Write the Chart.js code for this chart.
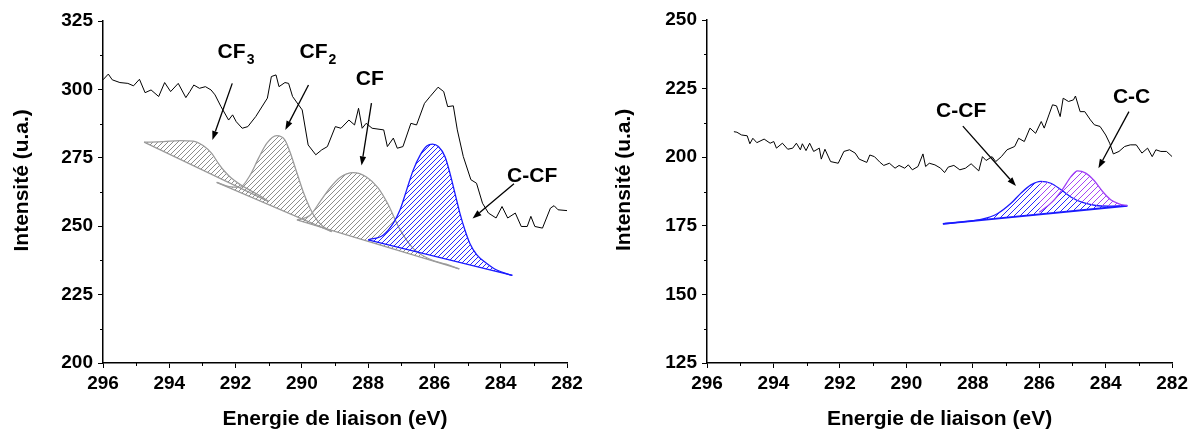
<!DOCTYPE html>
<html>
<head>
<meta charset="utf-8">
<script src="https://cdn.jsdelivr.net/npm/chart.js@4.4.0/dist/chart.umd.min.js"></script>
<style>
html,body{margin:0;padding:0;background:#fff;}
#left{position:absolute;left:0;top:0;width:600px;height:432px;}
#right{position:absolute;left:600px;top:0;width:592px;height:432px;}
</style>
</head>
<body>
<div id="left"><canvas id="c1"></canvas></div>
<div id="right"><canvas id="c2"></canvas></div>
<script>
// ---- left panel : spectre + 4 composantes ----
var spec1_eV = [296.00,295.84,295.72,295.49,295.25,295.08,294.90,294.73,294.55,294.32,294.14,293.96,293.73,293.50,293.38,293.26,293.09,292.91,292.74,292.62,292.44,292.21,292.09,291.98,291.80,291.63,291.39,291.04,290.92,290.78,290.69,290.51,290.40,290.28,289.99,289.81,289.58,289.40,289.23,288.99,288.82,288.58,288.41,288.29,288.18,288.06,287.88,287.53,287.42,287.24,287.12,286.95,286.71,286.54,286.30,286.13,285.89,285.72,285.60,285.43,285.31,285.13,284.90,284.73,284.55,284.37,284.14,283.96,283.79,283.56,283.38,283.20,283.09,282.97,282.74,282.50,282.39,282.27,282.00];
var spec1_int = [303.5,305.6,303.5,302.5,302.2,301.3,303.7,298.8,299.8,297.4,302.5,299.2,302.2,297.0,299.2,301.6,300.4,301.0,299.8,298.0,293.7,288.8,290.7,288.2,285.8,286.4,290.1,296.8,304.7,305.3,301.0,302.5,302.2,297.4,292.5,279.7,276.1,277.9,279.1,286.4,285.8,288.8,287.0,293.1,285.8,287.6,285.8,285.2,279.1,282.2,278.5,279.1,287.6,287.0,294.9,297.4,300.8,299.2,293.7,294.0,285.2,275.5,267.0,265.7,258.4,254.8,253.0,257.2,253.0,254.8,249.9,249.9,253.6,249.9,249.3,256.6,257.5,256.0,255.7];

var cf3_eV  = [294.76,294.18,293.68,293.28,292.97,292.72,292.52,292.32,292.12,291.87,291.56,291.25,291.0];
var cf3_int = [280.7,280.9,281.3,281.1,279.4,276.6,273.0,269.9,267.5,265.3,263.1,261.0,259.0];
var cf3_base_eV = [294.76,291.0], cf3_base = [280.7,259.0];

var cf2_eV  = [292.57,292.2,291.87,291.56,291.31,291.06,290.76,290.51,290.36,290.16,289.96,289.75,289.55,289.35,289.1];
var cf2_int = [266.0,264.5,264.2,268.7,274.8,280.3,283.1,281.5,277.2,269.9,262.6,256.5,252.3,249.8,248.0];
var cf2_base_eV = [292.57,289.1], cf2_base = [266.0,248.0];

var cf_eV  = [290.15,289.75,289.45,289.15,288.85,288.45,288.05,287.7,287.4,287.05,286.65,286.15,285.65,285.25];
var cf_int = [252.3,254.0,259.0,264.0,267.8,269.6,268.0,264.0,258.0,249.0,242.0,238.0,236.1,234.4];
var cf_base_eV = [290.15,285.25], cf_base = [252.3,234.4];

var ccf1_eV  = [288.0,287.54,287.24,287.04,286.84,286.64,286.43,286.23,286.06,285.88,285.68,285.53,285.38,285.23,285.08,284.93,284.72,284.42,284.12,283.65];
var ccf1_int = [245.0,246.8,251.1,255.9,263.2,270.5,276.0,279.3,280.0,279.1,275.4,269.3,262.0,254.7,248.6,243.7,239.5,236.4,234.0,232.0];
var ccf1_base_eV = [288.0,283.65], ccf1_base = [245.0,232.0];

// ---- right panel ----
var spec2_eV = [295.19,295.10,294.96,294.79,294.71,294.62,294.50,294.28,294.10,293.99,293.91,293.73,293.57,293.42,293.31,293.19,293.13,293.02,292.91,292.79,292.62,292.56,292.45,292.28,292.05,291.88,291.71,291.54,291.42,291.19,291.10,290.96,290.79,290.68,290.51,290.34,290.22,290.05,289.94,289.82,289.65,289.50,289.42,289.31,289.14,288.97,288.85,288.74,288.57,288.39,288.22,288.05,287.82,287.71,287.60,287.42,287.31,287.14,286.97,286.74,286.62,286.45,286.28,286.11,285.94,285.85,285.71,285.60,285.48,285.37,285.28,285.12,284.97,284.91,284.77,284.63,284.46,284.34,284.17,284.00,283.88,283.77,283.60,283.43,283.26,283.08,282.91,282.74,282.60,282.49,282.34,282.17,282.00];
var spec2_int = [209.3,209.1,208.1,207.8,204.9,206.9,205.3,206.6,205.1,205.7,203.3,205.1,202.9,203.3,205.1,202.7,204.9,202.4,205.1,202.1,203.3,199.3,202.9,198.4,197.8,202.1,202.7,201.5,199.3,198.1,200.8,200.2,198.1,197.0,197.8,196.0,197.0,196.0,197.2,195.4,196.6,201.2,196.6,197.8,197.2,196.0,194.4,196.4,197.0,195.4,196.0,197.6,195.0,200.2,198.8,200.2,198.4,200.2,202.7,203.9,206.9,205.7,210.6,208.7,213.0,210.6,215.4,219.1,218.7,214.8,221.5,220.3,220.9,222.3,216.6,216.6,213.6,211.8,211.2,208.1,205.1,201.2,202.1,203.9,204.5,204.5,201.5,203.3,200.2,202.7,202.1,202.1,200.2];

var ccf2_eV  = [288.9,288.3,287.75,287.25,286.85,286.55,286.25,285.95,285.65,285.35,285.05,284.7,284.3,283.9,283.35];
var ccf2_int = [175.7,176.4,177.3,179.5,183.2,186.9,189.9,191.2,190.5,188.2,185.5,183.5,182.4,182.2,182.3];
var cc_eV  = [286.0,285.6,285.3,285.05,284.85,284.6,284.35,284.1,283.85,283.6,283.35];
var cc_int = [179.9,183.8,188.3,192.8,195.0,194.2,191.5,187.6,184.5,183.0,182.3];
var base2_eV = [288.9,283.35], base2 = [175.7,182.3];

// ticks
var xMinor = [283,285,287,289,291,293,295];
var yMinor1 = [212.5,237.5,262.5,287.5,312.5];
var yMinor2 = [137.5,162.5,187.5,212.5,237.5];

// annotations [eV debut, int debut, eV pointe, int pointe]
var arrows1 = [[292.1,302.2,292.7,281.5],[289.8,301.6,290.5,285.2],[287.9,295.0,288.2,272.2],[283.6,265.5,284.85,252.8]];
var labels1 = [['CF','3',292.12,313.5],['CF','2',289.65,313.5],['CF','',287.95,303.7],['C-CF','',283.05,268.3]];
var arrows2 = [[288.3,211.3,286.7,189.5],[283.3,216.6,284.22,196.0]];
var labels2 = [['C-CF','',288.35,216.8],['C-C','',283.22,222.0]];

var FONT = "'Liberation Sans', Arial, Helvetica, sans-serif";

function pts(xs, ys){
    return xs.map(function(v, i){ return {x: v, y: ys[i]}; });
}

function hatch(color, gap){
    var c = document.createElement('canvas');
    c.width = gap; c.height = gap;
    var g = c.getContext('2d');
    g.strokeStyle = color; g.lineWidth = 1;
    g.beginPath();
    g.moveTo(0, gap); g.lineTo(gap, 0);
    g.moveTo(-1, 1); g.lineTo(1, -1);
    g.moveTo(gap-1, gap+1); g.lineTo(gap+1, gap-1);
    g.stroke();
    return g.createPattern(c, 'repeat');
}

function peak(xs, ys, color, fillStyle){
    return {data: pts(xs, ys), borderColor: color, borderWidth: 1.3, pointRadius: 0,
            fill: '+1', backgroundColor: fillStyle, cubicInterpolationMode: 'monotone'};
}
function base(xs, ys, color, w){
    return {data: pts(xs, ys), borderColor: color, borderWidth: w, pointRadius: 0, fill: false};
}
function spectrum(xs, ys){
    return {data: pts(xs, ys), borderColor: '#000', borderWidth: 1, pointRadius: 0, fill: false, tension: 0};
}

var decor = {
    id: 'decor',
    afterDraw: function(chart){
        var o = chart.options.plugins.decor;
        var ctx = chart.ctx, xs = chart.scales.x, ys = chart.scales.y, a = chart.chartArea;
        ctx.save();
        ctx.strokeStyle = '#000'; ctx.lineWidth = 1;
        ctx.beginPath();
        o.xMinor.forEach(function(v){
            var px = Math.round(xs.getPixelForValue(v)) + 0.5;
            ctx.moveTo(px, a.bottom); ctx.lineTo(px, a.bottom + 3);
        });
        o.yMinor.forEach(function(v){
            var py = Math.round(ys.getPixelForValue(v)) + 0.5;
            ctx.moveTo(a.left, py); ctx.lineTo(a.left - 3, py);
        });
        ctx.stroke();

        // fleches
        ctx.fillStyle = '#000'; ctx.lineWidth = 1.3;
        o.arrows.forEach(function(ar){
            var x0 = xs.getPixelForValue(ar[0]), y0 = ys.getPixelForValue(ar[1]);
            var x1 = xs.getPixelForValue(ar[2]), y1 = ys.getPixelForValue(ar[3]);
            var ang = Math.atan2(y1 - y0, x1 - x0), L = 9, W = 3.2;
            var bx = x1 - L*Math.cos(ang), by = y1 - L*Math.sin(ang);
            ctx.beginPath(); ctx.moveTo(x0, y0); ctx.lineTo(bx, by); ctx.stroke();
            ctx.beginPath();
            ctx.moveTo(x1, y1);
            ctx.lineTo(bx + W*Math.sin(ang), by - W*Math.cos(ang));
            ctx.lineTo(bx - W*Math.sin(ang), by + W*Math.cos(ang));
            ctx.closePath(); ctx.fill();
        });

        // etiquettes
        ctx.textAlign = 'center'; ctx.textBaseline = 'middle';
        o.labels.forEach(function(lb){
            var px = xs.getPixelForValue(lb[2]), py = ys.getPixelForValue(lb[3]);
            ctx.font = 'bold 21px ' + FONT;
            ctx.fillText(lb[0], px, py);
            if (lb[1]) {
                var w = ctx.measureText(lb[0]).width;
                ctx.font = 'bold 14px ' + FONT;
                ctx.fillText(lb[1], px + w/2 + 5, py + 8);
            }
        });
        ctx.restore();
    }
};

function axes(yMin, yMax, yWidth, yTitlePad){
    return {
        x: {
            type: 'linear', reverse: true, min: 282, max: 296,
            afterFit: function(s){ s.height = 69; },
            ticks: {stepSize: 2, autoSkip: false, maxRotation: 0, color: '#000', padding: 4,
                    font: {family: FONT, size: 19, weight: 'bold'}},
            grid: {drawOnChartArea: false, color: '#000', tickLength: 5, lineWidth: 1},
            border: {color: '#000', width: 1.5},
            title: {display: true, text: 'Energie de liaison (eV)', color: '#000',
                    font: {family: FONT, size: 21, weight: 'bold'}, padding: {top: 0, bottom: 0}}
        },
        y: {
            min: yMin, max: yMax,
            afterFit: function(s){ s.width = yWidth; },
            ticks: {stepSize: 25, color: '#000', padding: 5,
                    font: {family: FONT, size: 19, weight: 'bold'}},
            grid: {drawOnChartArea: false, color: '#000', tickLength: 5, lineWidth: 1},
            border: {color: '#000', width: 1.5},
            // leading spaces push the rotated title a little towards the top, as in the figure
            title: {display: true, text: '    Intensité (u.a.)', color: '#000',
                    font: {family: FONT, size: 21, weight: 'bold'}, padding: {top: yTitlePad, bottom: 0}}
        }
    };
}

var gray = '#9c9c9c', grayHatch = hatch('#8c8c8c', 5);
var blue = '#1a1aff', blueHatch = hatch('#2626ff', 5), blueHatch2 = hatch('#2626ff', 6);
var purple = '#a040f5', purpleHatch = hatch('#a545f5', 6);

new Chart(document.getElementById('c1'), {
    type: 'line',
    data: {
        datasets: [
            spectrum(spec1_eV, spec1_int),
            peak(ccf1_eV, ccf1_int, blue, blueHatch),
            base(ccf1_base_eV, ccf1_base, blue, 1.3),
            peak(cf_eV, cf_int, gray, grayHatch),
            base(cf_base_eV, cf_base, gray, 1.3),
            peak(cf2_eV, cf2_int, gray, grayHatch),
            base(cf2_base_eV, cf2_base, gray, 1.3),
            peak(cf3_eV, cf3_int, gray, grayHatch),
            base(cf3_base_eV, cf3_base, gray, 1.3)
        ]
    },
    options: {
        responsive: true, maintainAspectRatio: false, animation: false, devicePixelRatio: 1,
        layout: {padding: {left: 0, right: 33, top: 21, bottom: 0}},
        plugins: {legend: {display: false}, tooltip: {enabled: false},
                  decor: {xMinor: xMinor, yMinor: yMinor1, arrows: arrows1, labels: labels1}},
        scales: axes(200, 325, 103, 10)
    },
    plugins: [decor]
});

new Chart(document.getElementById('c2'), {
    type: 'line',
    data: {
        datasets: [
            spectrum(spec2_eV, spec2_int),
            peak(cc_eV, cc_int, purple, purpleHatch),
            peak(ccf2_eV, ccf2_int, blue, blueHatch2),
            base(base2_eV, base2, blue, 2)
        ]
    },
    options: {
        responsive: true, maintainAspectRatio: false, animation: false, devicePixelRatio: 1,
        layout: {padding: {left: 0, right: 16, top: 20, bottom: 0}},
        plugins: {legend: {display: false}, tooltip: {enabled: false},
                  decor: {xMinor: xMinor, yMinor: yMinor2, arrows: arrows2, labels: labels2}},
        scales: axes(125, 250, 107, 12)
    },
    plugins: [decor]
});
</script>
</body>
</html>
